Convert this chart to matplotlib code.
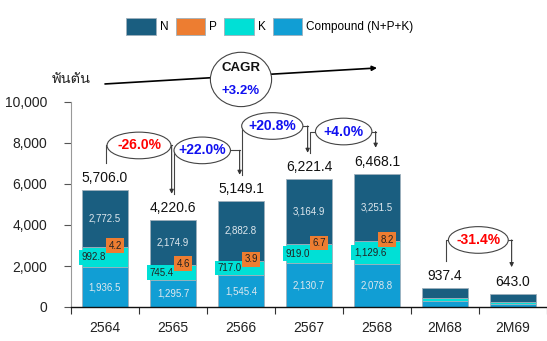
import matplotlib
matplotlib.use('Agg')
import matplotlib.pyplot as plt
from matplotlib.patches import Ellipse
from matplotlib import font_manager
from matplotlib.ft2font import FT2Font

# DATA (thousand tonnes)
years = ['2564', '2565', '2566', '2567', '2568', '2M68', '2M69']
compound = [1936.5, 1295.7, 1545.4, 2130.7, 2078.8, 300.0, 170.0]
k_vals = [992.8, 745.4, 717.0, 919.0, 1129.6, 140.0, 90.0]
p_vals = [4.2, 4.6, 3.9, 6.7, 8.2, 2.0, 1.5]
n_vals = [2772.5, 2174.9, 2882.8, 3164.9, 3251.5, 495.4, 381.5]
totals = [5706.0, 4220.6, 5149.1, 6221.4, 6468.1, 937.4, 643.0]

growth_from = [0, 1, 2, 3, 5]
growth_to = [1, 2, 3, 4, 6]
growth_txt = ['-26.0%', '+22.0%', '+20.8%', '+4.0%', '-31.4%']
cagr_txt = '+3.2%'

# layout of the growth bubbles
ell_x = [0.5, 1.43, 2.46, 3.51, 5.49]
ell_y = [7880, 7640, 8830, 8560, 3270]
ell_w = [0.94, 0.83, 0.90, 0.83, 0.88]
ell_h = 1300
gap = 1300

c_n, c_p, c_k, c_c = '#1a5e80', '#ed7d31', '#00e0d6', '#119ed4'


# find something that can draw Thai
def find_thai():
    for f in font_manager.fontManager.ttflist:
        try:
            if FT2Font(f.fname).get_char_index(ord('พ')):
                return f.name
        except Exception:
            pass
    return None


fams = ['Liberation Sans']
thai = find_thai()
if thai:
    fams.append(thai)
fams.append('DejaVu Sans')
plt.rcParams['font.family'] = fams

fig = plt.figure(figsize=(5.47, 3.41), dpi=100)
ax = fig.add_axes([71 / 547, 1 - 307 / 341, 476 / 547, 205 / 341])

x = list(range(len(years)))
w = 0.68
edge = dict(edgecolor='#9fb0bc', linewidth=0.6)
b1 = ax.bar(x, compound, w, color=c_c, **edge)
bot = compound[:]
b2 = ax.bar(x, k_vals, w, bottom=bot, color=c_k, **edge)
bot = [a + b for a, b in zip(bot, k_vals)]
b3 = ax.bar(x, p_vals, w, bottom=bot, color=c_p, **edge)
bot = [a + b for a, b in zip(bot, p_vals)]
b4 = ax.bar(x, n_vals, w, bottom=bot, color=c_n, **edge)

for i in x:
    ax.text(i, totals[i] + 250, f'{totals[i]:,.1f}', ha='center', va='bottom',
            fontsize=10, color='#111')
    if totals[i] < 2000:
        continue
    kt = compound[i] + k_vals[i]
    ax.text(i, compound[i] / 2, f'{compound[i]:,.1f}', ha='center', va='center',
            fontsize=7, color='#dfe8ee')
    ax.text(i, kt + p_vals[i] + n_vals[i] / 2, f'{n_vals[i]:,.1f}', ha='center',
            va='center', fontsize=7, color='#dfe8ee')
    ax.text(i - 0.34, compound[i] + k_vals[i] / 2, f'{k_vals[i]:,.1f}', ha='left',
            va='center', fontsize=7, color='#222', zorder=4,
            bbox=dict(boxstyle='square,pad=0.25', fc=c_k, ec='none'))
    ax.text(i + 0.25, kt + 70, f'{p_vals[i]:,.1f}', ha='right', va='center',
            fontsize=7, color='#222', zorder=5,
            bbox=dict(boxstyle='square,pad=0.25', fc=c_p, ec='none'))

# growth bubbles with connectors
for j in range(len(growth_txt)):
    a, b = growth_from[j], growth_to[j]
    cx, cy, ew = ell_x[j], ell_y[j], ell_w[j]
    lx, rx = a + 0.02, b - 0.02
    ax.plot([lx, lx, cx - ew / 2], [totals[a] + gap, cy, cy], color='#444',
            lw=0.8, clip_on=False, zorder=4)
    ax.plot([cx + ew / 2, rx], [cy, cy], color='#444', lw=0.8, clip_on=False, zorder=4)
    ax.annotate('', xy=(rx, totals[b] + gap), xytext=(rx, cy), annotation_clip=False,
                arrowprops=dict(arrowstyle='-|>', color='#333', lw=0.8,
                                mutation_scale=6, shrinkA=0, shrinkB=0), zorder=4)
    ax.add_patch(Ellipse((cx, cy), ew, ell_h, fc='white', ec='#444', lw=0.8,
                         clip_on=False, zorder=5))
    col = 'red' if growth_txt[j].startswith('-') else '#1010f0'
    ax.text(cx, cy, growth_txt[j], ha='center', va='center', fontsize=10,
            fontweight='bold', color=col, zorder=6)

# CAGR arrow over the whole period
ax.annotate('', xy=(4.0, 11660), xytext=(0.0, 10880), annotation_clip=False,
            arrowprops=dict(arrowstyle='-|>', color='black', lw=1.2,
                            mutation_scale=7, shrinkA=0, shrinkB=0), zorder=4)
ax.add_patch(Ellipse((2.0, 11100), 0.9, 2650, fc='white', ec='#444', lw=0.8,
                     clip_on=False, zorder=5))
ax.text(2.0, 11660, 'CAGR', ha='center', va='center', fontsize=9.5,
        fontweight='bold', color='#111', zorder=6)
ax.text(2.0, 10520, cagr_txt, ha='center', va='center', fontsize=9.5,
        fontweight='bold', color='#1010f0', zorder=6)
ax.text(-0.49, 11100, 'พันตัน', ha='center', va='center', fontsize=10.5, color='#222')

ax.set_xlim(-0.5, len(years) - 0.5)
ax.set_ylim(0, 10000)
ax.set_yticks([0, 2000, 4000, 6000, 8000, 10000])
ax.set_yticklabels(['0', '2,000', '4,000', '6,000', '8,000', '10,000'])
ax.set_xticks(x)
ax.set_xticklabels(years)
ax.set_xticks([i - 0.5 for i in range(len(years) + 1)], minor=True)
ax.tick_params(axis='x', which='major', length=0, pad=10, labelsize=10, labelcolor='#222')
ax.tick_params(axis='x', which='minor', length=5, width=0.8, color='#333')
ax.tick_params(axis='y', length=5, width=0.8, color='#555', pad=12, labelsize=10,
               labelcolor='#222')
for s in ['top', 'right']:
    ax.spines[s].set_visible(False)
ax.spines['left'].set_color('#999')
ax.spines['left'].set_linewidth(0.8)
ax.spines['bottom'].set_color('#111')
ax.spines['bottom'].set_linewidth(1.0)

fig.legend([b4, b3, b2, b1], ['N', 'P', 'K', 'Compound (N+P+K)'], loc='center',
           bbox_to_anchor=(270 / 547, 1 - 26.5 / 341), ncol=4, frameon=False,
           fontsize=8.5, handlelength=2.5, handleheight=1.8, handletextpad=0.35,
           columnspacing=0.6)

fig.savefig('out.png', dpi=100)
